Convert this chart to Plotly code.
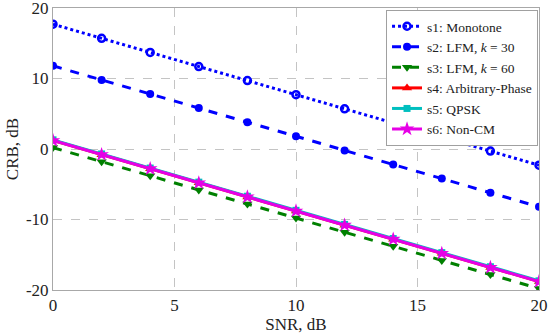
import plotly.graph_objects as go

snr = [0, 2, 4, 6, 8, 10, 12, 14, 16, 18, 20]
s1 = [17.7, 15.7, 13.7, 11.7, 9.7, 7.7, 5.7, 3.7, 1.7, -0.3, -2.3]
s2 = [11.8, 9.8, 7.8, 5.8, 3.8, 1.8, -0.2, -2.2, -4.2, -6.2, -8.2]
s3 = [0.2, -1.8, -3.8, -5.8, -7.8, -9.8, -11.8, -13.8, -15.8, -17.8, -19.8]
s4 = [1.2, -0.8, -2.8, -4.8, -6.8, -8.8, -10.8, -12.8, -14.8, -16.8, -18.8]
s5 = [1.3, -0.7, -2.7, -4.7, -6.7, -8.7, -10.7, -12.7, -14.7, -16.7, -18.7]
s6 = [1.2, -0.8, -2.8, -4.8, -6.8, -8.8, -10.8, -12.8, -14.8, -16.8, -18.8]

x_ticks = [0, 5, 10, 15, 20]
y_ticks = [-20, -10, 0, 10, 20]
y_ticklabels = ["-20", "-10", "0", "10", "20"]

names = ["s1: Monotone", "s2: LFM, <i>k</i> = 30", "s3: LFM, <i>k</i> = 60",
         "s4: Arbitrary-Phase", "s5: QPSK", "s6: Non-CM"]
series = [s1, s2, s3, s4, s5, s6]
colors = ["#0000ff", "#0000ff", "#008000", "#ff0000", "#00bfbf", "#e600e6"]
dashes = ["dot", "dash", "dash", "solid", "solid", "solid"]
symbols = ["circle-open", "circle", "triangle-down", "triangle-up", "square", "star"]
sizes = [7, 8, 9, 9, 7, 11]

fig = go.Figure()
for n, ys, c, d, s, sz in zip(names, series, colors, dashes, symbols, sizes):
    fig.add_trace(go.Scatter(
        x=snr, y=ys, name=n, mode="lines+markers",
        line=dict(color=c, dash=d, width=3),
        marker=dict(symbol=s, size=sz, color=c,
                    line=dict(color=c, width=2.5 if s == "circle-open" else 0)),
    ))

axis_common = dict(
    showgrid=True, gridcolor="#c4c4c4", griddash="dash", gridwidth=1,
    showline=True, linecolor="#a8a8a8", linewidth=1, mirror=True,
    zeroline=False, ticks="", tickfont=dict(size=17, color="#222"),
    automargin=False, ticklabeloverflow="allow",
)
fig.update_xaxes(range=[0, 20], tickvals=x_ticks,
                 title=dict(text="SNR, dB", font=dict(size=17, color="#222"), standoff=0),
                 **axis_common)
fig.update_yaxes(range=[-20, 20], tickvals=y_ticks, ticktext=y_ticklabels,
                 title=dict(text="CRB, dB", font=dict(size=17, color="#222"), standoff=2),
                 **axis_common)

fig.update_layout(
    width=550, height=334,
    margin=dict(l=53, r=11, t=8, b=44),
    paper_bgcolor="white", plot_bgcolor="white",
    font=dict(family="Liberation Serif", color="#222"),
    legend=dict(x=0.998, y=0.993, xanchor="right", yanchor="top",
                bgcolor="white", bordercolor="#a0a0a0", borderwidth=1,
                font=dict(size=13.5), tracegroupgap=0, itemwidth=30),
)

fig.write_html("out.html", config={"displayModeBar": False},
               post_script="document.body.style.margin='0';")
